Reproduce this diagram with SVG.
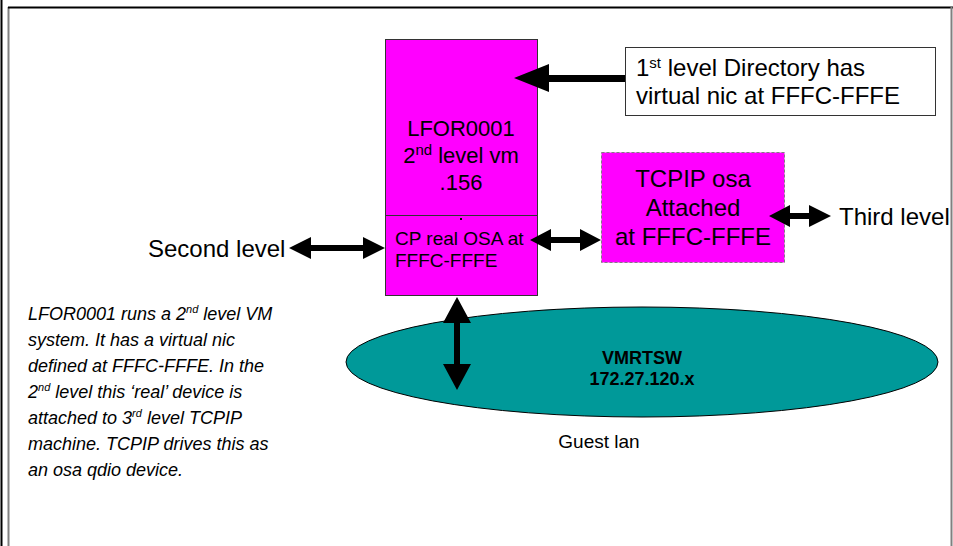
<svg xmlns="http://www.w3.org/2000/svg" width="953" height="546" viewBox="0 0 953 546">
  <defs>
    <style>
      text { font-family: "Liberation Sans", Arial, sans-serif; fill: #000; }
      .box { fill: #FF00FF; stroke: #333; stroke-width: 1; }
      .arrow { fill: #000; }
      .t24 { font-size: 24px; }
      .t22 { font-size: 22px; }
      .t19 { font-size: 19px; }
      .it { font-size: 18px; font-style: italic; }
      .sup11 { font-size: 11px; }
      .sup15 { font-size: 15px; }
      .lan { font-size: 18px; font-weight: bold; }
    </style>
  </defs>

  <rect x="0" y="0" width="953" height="546" fill="#fff"/>

  <!-- page frame -->
  <g id="frame">
    <line x1="1.5" y1="0" x2="1.5" y2="546" stroke="#000" stroke-width="2"/>
    <line x1="8.5" y1="7" x2="8.5" y2="546" stroke="#808080" stroke-width="2"/>
    <line x1="8" y1="7.5" x2="953" y2="7.5" stroke="#000" stroke-width="2"/>
    <line x1="951.5" y1="7" x2="951.5" y2="546" stroke="#808080" stroke-width="2"/>
  </g>

  <!-- guest LAN -->
  <g id="vmrtsw">
    <ellipse cx="642" cy="362" rx="296" ry="55" fill="#009999" stroke="#000" stroke-width="1"/>
    <text x="642" y="364" text-anchor="middle" class="lan">VMRTSW</text>
    <text x="642" y="385" text-anchor="middle" class="lan">172.27.120.x</text>
  </g>
  <g id="guest-lan-label">
    <text x="599" y="448" text-anchor="middle" class="t19">Guest lan</text>
  </g>

  <!-- 2nd level VM -->
  <g id="lfor0001">
    <rect class="box" x="385.5" y="39.5" width="152" height="256"/>
    <line x1="385.5" y1="215.5" x2="537.5" y2="215.5" stroke="#333" stroke-width="1"/>
    <rect x="460" y="218" width="2" height="2" fill="#000"/>
    <text x="461" y="136" text-anchor="middle" class="t22">LFOR0001</text>
    <text x="461" y="163" text-anchor="middle" class="t22">2<tspan class="sup15" dy="-8">nd</tspan><tspan dy="8"> level vm</tspan></text>
    <text x="461" y="190" text-anchor="middle" class="t22">.156</text>
    <text x="395" y="245" class="t19">CP real OSA at</text>
    <text x="395" y="267" class="t19">FFFC-FFFE</text>
  </g>

  <!-- 3rd level TCPIP -->
  <g id="tcpip">
    <rect x="601.5" y="152.5" width="183" height="110" fill="#FF00FF" stroke="#808080" stroke-width="1" stroke-dasharray="3,2"/>
    <text x="693" y="187" text-anchor="middle" class="t24">TCPIP osa</text>
    <text x="693" y="216" text-anchor="middle" class="t24">Attached</text>
    <text x="693" y="245" text-anchor="middle" class="t24">at FFFC-FFFE</text>
  </g>

  <!-- directory note -->
  <g id="directory">
    <rect x="625.5" y="47.5" width="310" height="68" fill="#fff" stroke="#333" stroke-width="1"/>
    <text x="636" y="76" class="t24">1<tspan class="sup15" dy="-8">st</tspan><tspan dy="8"> level Directory has</tspan></text>
    <text x="636" y="104" class="t24">virtual nic at FFFC-FFFE</text>
  </g>

  <g id="second-level-label">
    <text x="148" y="257" class="t24">Second level</text>
  </g>
  <g id="third-level-label">
    <text x="839" y="225" class="t24">Third level</text>
  </g>

  <g id="explanation">
    <text class="it" x="28" y="320">LFOR0001 runs a 2<tspan class="sup11" dy="-7">nd</tspan><tspan dy="7"> level VM</tspan></text>
    <text class="it" x="28" y="346">system. It has a virtual nic</text>
    <text class="it" x="28" y="372">defined at FFFC-FFFE. In the</text>
    <text class="it" x="28" y="398">2<tspan class="sup11" dy="-7">nd</tspan><tspan dy="7"> level this ‘real’ device is</tspan></text>
    <text class="it" x="28" y="424">attached to 3<tspan class="sup11" dy="-7">rd</tspan><tspan dy="7"> level TCPIP</tspan></text>
    <text class="it" x="28" y="450">machine. TCPIP drives this as</text>
    <text class="it" x="28" y="476">an osa qdio device.</text>
  </g>

  <!-- connectors -->
  <g id="connectors" class="arrow">
    <!-- directory to VM -->
    <polygon points="514,78 549,64 549,75 625,75 625,82 549,82 549,92"/>
    <!-- VM to TCPIP -->
    <polygon points="530,240 551,229 551,237 580,237 580,229 601,240 580,251 580,243 551,243 551,251"/>
    <!-- second level -->
    <polygon points="289,248 311,237 311,245 363,245 363,237 385,248 363,259 363,251 311,251 311,259"/>
    <!-- third level -->
    <polygon points="769,216 790,205 790,213 809,213 809,205 831,216 809,227 809,219 790,219 790,227"/>
    <!-- VM to guest LAN -->
    <polygon points="457,297 471,323 460,323 460,364 471,364 457,390 443,364 454,364 454,323 443,323"/>
  </g>
</svg>
